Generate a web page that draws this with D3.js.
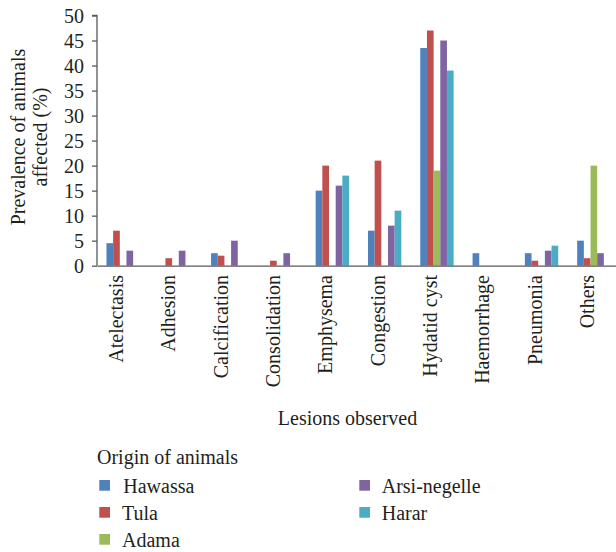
<!DOCTYPE html>
<html>
<head>
<meta charset="utf-8">
<script src="https://cdn.jsdelivr.net/npm/d3@7"></script>
<style>
  html, body { margin: 0; padding: 0; background: #fff; }
  svg { display: block; }
</style>
</head>
<body>
<div id="chart"></div>
<script>
const categories = ["Atelectasis", "Adhesion", "Calcification", "Consolidation", "Emphysema",
  "Congestion", "Hydatid cyst", "Haemorrhage", "Pneumonia", "Others"];
const seriesNames = ["Hawassa", "Tula", "Adama", "Arsi-negelle", "Harar"];
const seriesColors = ["#4F81BD", "#C0504D", "#9BBB59", "#8064A2", "#4BACC6"];
const hawassa     = [4.5, 0,   2.5, 0, 15, 7,  43.5, 2.5, 2.5, 5];
const tula        = [7,   1.5, 2,   1, 20, 21, 47,   0,   1,   1.5];
const adama       = [0,   0,   0,   0, 0,  0,  19,   0,   0,   20];
const arsiNegelle = [3,   3,   5,   2.5, 16, 8, 45,  0,   3,   2.5];
const harar       = [0,   0,   0,   0, 18, 11, 39,   0,   4,   0];
const seriesValues = [hawassa, tula, adama, arsiNegelle, harar];
const yTicks = [0, 5, 10, 15, 20, 25, 30, 35, 40, 45, 50];
const yTitleLines = ["Prevalence of animals", "affected (%)"];
const xTitle = "Lesions observed";
const legendTitle = "Origin of animals";

const FONT = '"Liberation Serif"';
const TXT = "#231f20";
const W = 616, H = 552;
const svg = d3.select("#chart").append("svg").attr("width", W).attr("height", H);

const axisColor = "#58595b";
const x = d3.scaleBand().domain(categories).range([97, 620]).paddingInner(0).paddingOuter(0);
const y = d3.scaleLinear().domain([0, 50]).range([265.7, 15.5]);
const barW = 6.67;
const inner = d3.scaleBand().domain(seriesNames).range([-2.5 * barW, 2.5 * barW]);

// bars
seriesNames.forEach((s, si) => {
  svg.append("g").selectAll("rect")
    .data(categories.map((c, ci) => ({ c, v: seriesValues[si][ci] })).filter(d => d.v > 0))
    .join("rect")
    .attr("x", d => x(d.c) + x.bandwidth() / 2 + inner(s))
    .attr("y", d => y(d.v))
    .attr("width", inner.bandwidth())
    .attr("height", d => y(0) - y(d.v))
    .attr("fill", seriesColors[si]);
});

// y axis
const yAxis = svg.append("g").attr("transform", "translate(97,0)")
  .call(d3.axisLeft(y).tickValues(yTicks).tickSize(5).tickPadding(8).tickFormat(d3.format("d")));
yAxis.attr("font-family", null).attr("font-size", null);
yAxis.select(".domain").attr("stroke", axisColor).attr("stroke-width", 1.3).attr("d", `M-5,${y(50)}H0V${y(0)}`);
yAxis.selectAll(".tick line").attr("stroke", axisColor).attr("stroke-width", 1.3);
yAxis.selectAll(".tick text")
  .style("font-family", FONT).style("font-size", "20px").attr("fill", TXT).attr("dy", "0.34em");

// x axis line
const xAxis = svg.append("g").attr("transform", `translate(0,${y(0)})`)
  .call(d3.axisBottom(x).tickSize(0).tickFormat(""));
xAxis.selectAll(".tick").remove();
xAxis.select(".domain").attr("stroke", axisColor).attr("stroke-width", 1.3);

// category labels
svg.append("g").selectAll("text").data(categories).join("text")
  .attr("transform", d => `translate(${x(d) + x.bandwidth() / 2},275) rotate(-90)`)
  .attr("text-anchor", "end")
  .style("font-family", FONT).style("font-size", "20px").attr("fill", TXT)
  .text(d => d);

// y title
const yt = svg.append("text").attr("transform", "translate(25,137) rotate(-90)")
  .attr("text-anchor", "middle")
  .style("font-family", FONT).style("font-size", "20px").attr("fill", TXT);
yt.selectAll("tspan").data(yTitleLines).join("tspan")
  .attr("x", 0).attr("y", (d, i) => i * 21.5).text(d => d);

// x title
svg.append("text").attr("x", 347.5).attr("y", 425).attr("text-anchor", "middle")
  .style("font-family", FONT).style("font-size", "20px").attr("fill", TXT).text(xTitle);

// legend
svg.append("text").attr("x", 97).attr("y", 463.5)
  .style("font-family", FONT).style("font-size", "20px").attr("fill", TXT).text(legendTitle);
const legendPos = [
  { col: 0, row: 0 }, { col: 0, row: 1 }, { col: 0, row: 2 }, { col: 1, row: 0 }, { col: 1, row: 1 }
];
const legend = svg.append("g");
seriesNames.forEach((s, i) => {
  const p = legendPos[i];
  const sx = p.col === 0 ? 99.3 : 359.3;
  const tx = p.col === 0 ? 122 : 381.7;
  const sy = 480 + p.row * 27;
  legend.append("rect").attr("x", sx).attr("y", sy).attr("width", 10.7).attr("height", 10.7)
    .attr("fill", seriesColors[i]);
  legend.append("text").attr("x", tx + (i === 0 ? 1.3 : 0)).attr("y", sy + 13.3)
    .style("font-family", FONT).style("font-size", "20px").attr("fill", TXT).text(s);
});
</script>
</body>
</html>
